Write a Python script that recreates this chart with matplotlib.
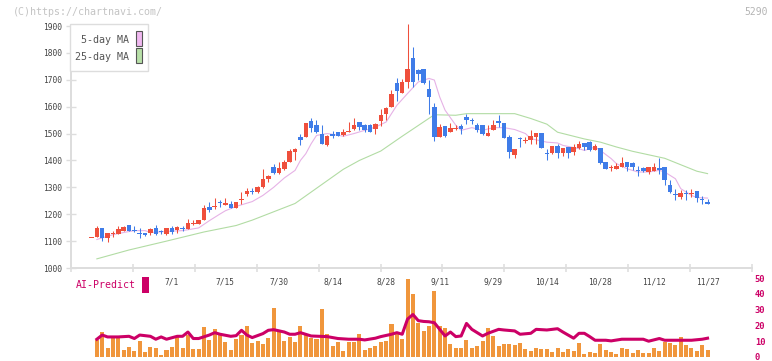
import numpy as np
import matplotlib.pyplot as plt
from matplotlib.patches import Rectangle

# daily candles
opens = [1114, 1116, 1149, 1113, 1127, 1126, 1139, 1160, 1143, 1131,
         1129, 1130, 1150, 1136, 1127, 1150, 1142, 1149, 1146, 1165,
         1165, 1180, 1227, 1228, 1247, 1236, 1238, 1223, 1253, 1275,
         1286, 1281, 1300, 1330, 1377, 1352, 1370, 1396, 1431, 1487,
         1486, 1546, 1531, 1500, 1456, 1497, 1505, 1496, 1504, 1518,
         1542, 1531, 1531, 1516, 1547, 1573, 1599, 1687, 1651, 1692,
         1782, 1737, 1740, 1665, 1598, 1487, 1527, 1506, 1519, 1527,
         1562, 1549, 1530, 1531, 1491, 1512, 1548, 1541, 1486, 1421,
         1482, 1474, 1477, 1487, 1502, 1427, 1428, 1452, 1429, 1449,
         1431, 1445, 1465, 1469, 1438, 1446, 1393, 1371, 1369, 1374,
         1395, 1389, 1364, 1371, 1356, 1362, 1371, 1374, 1310, 1276,
         1264, 1277, 1277, 1288, 1255, 1247]
highs = [1114, 1155, 1149, 1129, 1139, 1155, 1155, 1160, 1158, 1150,
         1131, 1150, 1160, 1141, 1150, 1156, 1157, 1157, 1181, 1178,
         1180, 1233, 1246, 1262, 1253, 1262, 1249, 1246, 1283, 1297,
         1296, 1305, 1367, 1345, 1385, 1396, 1400, 1441, 1446, 1497,
         1538, 1557, 1549, 1533, 1495, 1508, 1505, 1516, 1542, 1557,
         1542, 1534, 1535, 1541, 1590, 1597, 1662, 1706, 1702, 1907,
         1823, 1740, 1740, 1700, 1612, 1536, 1527, 1538, 1530, 1534,
         1572, 1556, 1539, 1531, 1531, 1549, 1568, 1541, 1493, 1441,
         1486, 1487, 1512, 1502, 1502, 1444, 1455, 1462, 1446, 1449,
         1463, 1473, 1465, 1472, 1462, 1446, 1393, 1384, 1389, 1411,
         1395, 1396, 1379, 1377, 1374, 1392, 1409, 1374, 1329, 1294,
         1289, 1291, 1294, 1288, 1269, 1257]
lows = [1114, 1116, 1100, 1096, 1117, 1126, 1139, 1139, 1134, 1112,
        1120, 1124, 1122, 1126, 1122, 1126, 1131, 1139, 1146, 1160,
        1165, 1180, 1207, 1218, 1226, 1236, 1223, 1223, 1238, 1267,
        1275, 1278, 1298, 1318, 1350, 1350, 1365, 1396, 1402, 1456,
        1486, 1506, 1503, 1461, 1453, 1485, 1491, 1491, 1504, 1512,
        1512, 1504, 1506, 1500, 1528, 1549, 1599, 1621, 1651, 1670,
        1672, 1701, 1684, 1574, 1472, 1487, 1487, 1506, 1512, 1500,
        1537, 1534, 1506, 1493, 1491, 1512, 1525, 1483, 1409, 1409,
        1450, 1465, 1462, 1462, 1447, 1403, 1425, 1410, 1416, 1410,
        1420, 1441, 1439, 1436, 1438, 1386, 1368, 1360, 1369, 1374,
        1359, 1366, 1341, 1358, 1349, 1362, 1350, 1310, 1280, 1254,
        1257, 1254, 1265, 1247, 1239, 1237]
closes = [1115, 1149, 1112, 1129, 1130, 1145, 1151, 1139, 1138, 1129,
          1124, 1146, 1126, 1134, 1150, 1135, 1151, 1147, 1167, 1168,
          1180, 1223, 1216, 1230, 1240, 1242, 1223, 1246, 1256, 1286,
          1281, 1300, 1330, 1342, 1355, 1372, 1396, 1434, 1442, 1476,
          1538, 1521, 1506, 1461, 1490, 1490, 1491, 1505, 1510, 1531,
          1526, 1512, 1506, 1535, 1568, 1594, 1646, 1660, 1691, 1740,
          1692, 1722, 1689, 1636, 1486, 1523, 1490, 1520, 1522, 1517,
          1552, 1546, 1512, 1500, 1502, 1532, 1538, 1483, 1431, 1441,
          1479, 1477, 1491, 1502, 1447, 1424, 1452, 1426, 1446, 1429,
          1451, 1461, 1450, 1438, 1452, 1390, 1368, 1374, 1381, 1389,
          1374, 1377, 1362, 1362, 1374, 1377, 1365, 1327, 1282, 1274,
          1279, 1274, 1279, 1259, 1253, 1237]

ma5_idx = [2, 4, 5, 7, 9, 11, 12, 15, 18, 21, 23, 25, 26, 28, 31, 33, 35, 37,
           39, 40, 41, 42, 43, 45, 46, 48, 50, 52, 54, 56, 57, 58, 60, 62, 64,
           65, 66, 67, 69, 70, 72, 74, 76, 78, 80, 82, 83, 86, 88, 89, 92, 93,
           95, 96, 98, 99, 101, 103, 105, 107, 108, 110, 111, 113, 114, 116]
ma5_val = [1106, 1118, 1124, 1132, 1139, 1139, 1132, 1136, 1139, 1149, 1176,
           1201, 1213, 1229, 1247, 1270, 1300, 1335, 1363, 1400, 1425, 1462,
           1493, 1500, 1497, 1490, 1500, 1512, 1524, 1543, 1574, 1605, 1649,
           1692, 1705, 1699, 1636, 1587, 1531, 1512, 1522, 1512, 1522, 1522,
           1515, 1500, 1481, 1468, 1465, 1456, 1444, 1437, 1450, 1437, 1407,
           1388, 1369, 1357, 1357, 1363, 1357, 1332, 1295, 1270, 1262, 1260]

ma25_idx = [2, 8, 15, 22, 28, 31, 39, 48, 51, 55, 59, 62, 65, 69, 71, 80, 83,
            86, 88, 93, 96, 99, 102, 105, 108, 111, 114, 116]
ma25_val = [1034, 1067, 1100, 1134, 1158, 1178, 1240, 1367, 1400, 1435, 1490,
            1530, 1570, 1568, 1574, 1574, 1556, 1535, 1505, 1480, 1468, 1450,
            1434, 1421, 1408, 1384, 1360, 1351]

volume = [0, 10.6, 15.6, 5.6, 13.1, 11.9, 4.4, 6.3, 3.8, 10,
          3.1, 6.3, 5.6, 1.3, 4.4, 6.3, 12.5, 5.6, 13.75, 5,
          5, 18.75, 10.6, 17.5, 15, 9.4, 4.4, 11.25, 13.75, 19.4,
          8.75, 10, 8.1, 11.9, 31.25, 16.25, 10, 12.5, 9.4, 19.4,
          14.4, 12, 11.25, 30.6, 14.4, 7.1, 9.2, 3.5, 9.6, 9.6,
          14.4, 4.6, 5.6, 7.1, 9.2, 10.2, 20.6, 14.4, 11.25, 49.4,
          40, 21.7, 16.5, 19.6, 41.5, 19.6, 18.5, 8.1, 5.4, 6,
          10.8, 6, 7.1, 10.2, 18.1, 13.3, 7.1, 8.1, 8.1, 7.8,
          9, 5, 4, 5.8, 5, 5, 3.3, 5.6, 3.3, 5,
          4, 8.75, 1.9, 3.3, 2.5, 8.1, 4.6, 3.3, 1.9, 6,
          5, 2.5, 4.6, 2.5, 2.5, 5.6, 4, 9.6, 8.75, 7.5,
          12.9, 7.7, 6, 4, 7.5, 4.6]

ai_idx = [2, 3, 4, 6, 8, 9, 10, 12, 13, 14, 15, 17, 18, 19, 20, 21, 23, 24, 25,
          27, 28, 29, 30, 31, 33, 34, 35, 37, 38, 39, 40, 42, 45, 47, 49, 51,
          52, 54, 55, 57, 58, 59, 60, 61, 62, 63, 64, 65, 66, 67, 68, 69, 70,
          71, 72, 73, 74, 75, 77, 78, 80, 81, 83, 84, 86, 88, 89, 91, 92, 93,
          94, 95, 97, 98, 100, 102, 104, 105, 107, 108, 111, 113, 115, 116]
ai_val = [11.25, 13.9, 12.7, 12.7, 13.1, 11.7, 13.9, 13.1, 11.25, 12.7, 11.25,
          13.1, 13.1, 15.8, 11.7, 11.7, 13.9, 15.4, 14.4, 13.1, 13.5, 16.9,
          13.9, 12.3, 14.8, 16.9, 17.3, 15.8, 14.4, 14.4, 15.4, 13.3, 12.9,
          11.7, 11.25, 11.25, 10.8, 11.9, 12.9, 14.4, 15.4, 14.4, 24, 26.9,
          23, 22.5, 22.3, 21.7, 17.5, 13.3, 15.8, 12.9, 13.3, 21.25, 17.5,
          15.4, 13.3, 15, 17.5, 17.1, 16.5, 14.4, 15, 17.5, 17.1, 17.9, 15.8,
          11.9, 15, 15, 12.9, 10.6, 10.6, 10.2, 11.25, 11.25, 11.25, 10, 11.7,
          10.6, 10.6, 10.6, 11.25, 11.9]

date_idx = [16, 26, 36, 46, 56, 66, 76, 86, 96, 106, 116]
date_labels = ['7/1', '7/15', '7/30', '8/14', '8/28', '9/11', '9/29',
               '10/14', '10/28', '11/12', '11/27']

W, H = 772, 361
MONO = 'DejaVu Sans Mono'
RED, BLUE = '#ef4f3c', '#3f7ce8'
GRID = '#dddddd'
MAG = '#cc0066'

# candle n sits at pixel 91.5 + (n-1)*5.357, axis spans pixels 71..752
step = 5.357
x0 = 1 + (71 - 91.5) / step
x1 = 1 + (752 - 91.5) / step

fig = plt.figure(figsize=(W / 100, H / 100), dpi=100)

# volume + AI-Predict panel (drawn first, transparent background)
ax2 = fig.add_axes([71 / W, 1 - 357 / H, (752 - 71) / W, 79 / H])
ax2.patch.set_visible(False)
ax2.set_xlim(x0, x1)
ax2.set_ylim(0, 50)
n = np.arange(1, len(closes) + 1)
ax2.bar(n, volume, width=0.75, color='#f0963c', linewidth=0, zorder=1)
ax2.plot(ai_idx, ai_val, color=MAG, lw=2.2, zorder=2)
for s in ax2.spines.values():
    s.set_visible(False)
ax2.set_xticks([])
ax2.yaxis.tick_right()
ax2.set_yticks(range(0, 51, 10))
ax2.set_yticklabels([str(v) for v in range(0, 51, 10)], fontsize=6.3,
                    family=MONO, fontweight='bold', color=MAG)
ax2.tick_params(axis='y', length=0, pad=2)

ax = fig.add_axes([71 / W, 1 - 268 / H, (752 - 71) / W, (268 - 26) / H])
ax.patch.set_visible(False)
ax.set_xlim(x0, x1)
ax.set_ylim(1000, 1900)

o = np.array(opens, float)
c = np.array(closes, float)
cols = [RED if cc >= oo else BLUE for oo, cc in zip(o, c)]

ax.plot(ma25_idx, ma25_val, color='#b2dca4', lw=0.8, zorder=1)
ax.plot(ma5_idx, ma5_val, color='#e6b2e6', lw=0.8, zorder=1)

ax.vlines(n, lows, highs, colors=cols, lw=0.75, zorder=2, clip_on=False)
minh = 3.7
bh = np.abs(c - o)
bot = np.minimum(o, c) - np.clip(minh - bh, 0, None) / 2
ax.bar(n, np.maximum(bh, minh), bottom=bot, width=0.85, color=cols,
       linewidth=0, zorder=3)

for s in ['top', 'right']:
    ax.spines[s].set_visible(False)
for s in ['left', 'bottom']:
    ax.spines[s].set_color(GRID)
    ax.spines[s].set_linewidth(1.4)

ax.set_yticks(range(1000, 1901, 100))
ax.set_yticklabels([str(v) for v in range(1000, 1901, 100)],
                   fontsize=5.7, family=MONO, color='#444444')
ax.tick_params(axis='y', direction='inout', length=6.5, width=1,
               color=GRID, pad=3)
ax.set_xticks(np.linspace(x0, x1, 12))
ax.set_xticklabels([])
ax.tick_params(axis='x', direction='inout', length=6, width=1.1, color=GRID)

for i, lab in zip(date_idx, date_labels):
    ax.text(i, -0.058, lab, transform=ax.get_xaxis_transform(), ha='center',
            va='center', fontsize=5.7, family=MONO, color='#444444')

# legend box
fig.add_artist(Rectangle((70 / W, 1 - 71 / H), 78 / W, 47 / H,
                         transform=fig.transFigure, facecolor='white',
                         edgecolor=GRID, lw=1, zorder=5))
fig.text(129 / W, 1 - 40 / H, '5-day MA', ha='right', va='center',
         fontsize=7.2, family=MONO, color='#555555', zorder=6)
fig.text(129 / W, 1 - 57 / H, '25-day MA', ha='right', va='center',
         fontsize=7.2, family=MONO, color='#555555', zorder=6)
fig.add_artist(Rectangle((136 / W, 1 - 46 / H), 6 / W, 15 / H,
                         transform=fig.transFigure, facecolor='#f0b8f0',
                         edgecolor='#555555', lw=0.8, zorder=6))
fig.add_artist(Rectangle((136 / W, 1 - 63 / H), 6 / W, 15 / H,
                         transform=fig.transFigure, facecolor='#b8e0a8',
                         edgecolor='#555555', lw=0.8, zorder=6))

fig.text(13 / W, 1 - 12 / H, '(C)https://chartnavi.com/', va='center',
         fontsize=7.2, family=MONO, color='#c4c4c4')
fig.text(768 / W, 1 - 12 / H, '5290', ha='right', va='center',
         fontsize=7, family=MONO, color='#b4b4b4')

fig.text(76 / W, 1 - 285 / H, 'AI-Predict', va='center', fontsize=7.1,
         family=MONO, color=MAG)
fig.add_artist(Rectangle((142 / W, 1 - 293 / H), 7 / W, 16 / H,
                         transform=fig.transFigure, facecolor=MAG,
                         edgecolor='none'))

fig.savefig('out.png', dpi=100)
